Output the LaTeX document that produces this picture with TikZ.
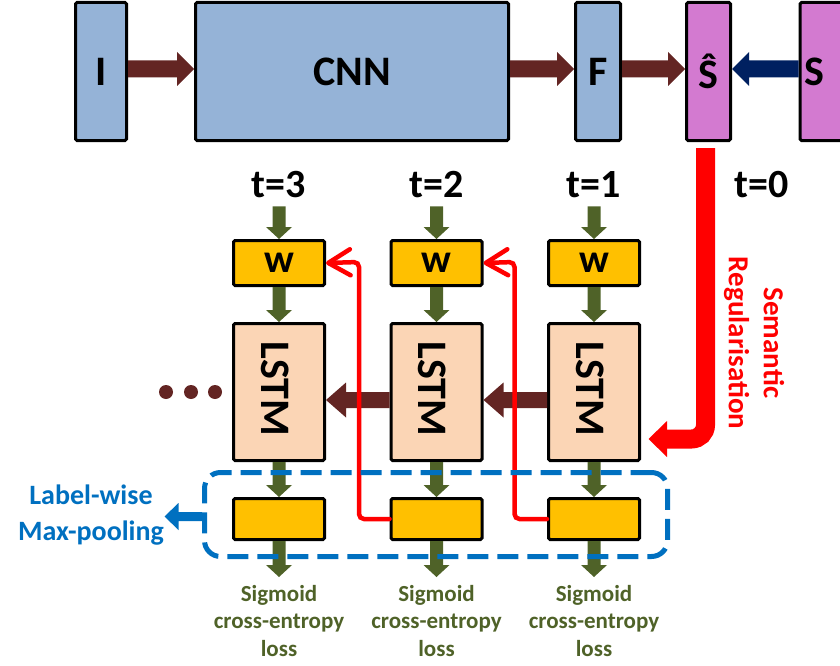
\documentclass[tikz,border=0pt]{standalone}
\usepackage{fontspec}
\setmainfont{Carlito}
\usepackage{graphicx}
\usetikzlibrary{calc,arrows.meta}
\definecolor{boxblue}{HTML}{95B3D7}
\definecolor{pinkc}{HTML}{D37AD0}
\definecolor{orangec}{HTML}{FFC000}
\definecolor{peachc}{HTML}{FBD5B5}
\definecolor{maroonc}{HTML}{632523}
\definecolor{navyc}{HTML}{002060}
\definecolor{greenc}{HTML}{4F6228}
\definecolor{bluec}{HTML}{0070C0}
\definecolor{redc}{HTML}{FF0000}
% block arrow: start, tip, half shaft, half head, head length, colour
\newcommand{\blockarrow}[6]{%
  \coordinate (bahead) at ($(#2)!#5!(#1)$);
  \fill[#6] ($(#1)!#3!90:(#2)$) -- ($(bahead)!#3!90:(#2)$) -- ($(bahead)!#4!90:(#2)$) -- (#2)
    -- ($(bahead)!#4!-90:(#2)$) -- ($(bahead)!#3!-90:(#2)$) -- ($(#1)!#3!-90:(#2)$) -- cycle;}
\begin{document}
\begin{tikzpicture}[x=1pt,y=-1pt,
  box/.style={draw=black, line width=3pt, rounded corners=1.5pt, inner sep=0pt, align=center},
  bigtxt/.style={font=\bfseries\fontsize{42}{50}\selectfont},
  ttxt/.style={font=\bfseries\fontsize{40}{48}\selectfont, inner sep=0pt},
  sigtxt/.style={font=\bfseries\fontsize{23}{27.5}\selectfont, text=greenc, align=center, inner sep=0pt},
  thinred/.style={draw=redc, line width=4.5pt, rounded corners=5pt, line cap=round,
    -{Straight Barb[length=22pt,width=26pt,round]}},
  dot/.style={circle, fill=maroonc, minimum size=14pt, inner sep=0pt}
]
\useasboundingbox (0,0) rectangle (840,666);
\clip (0,0) rectangle (840,666);

% ---- top row ----
\node[box, bigtxt, fill=boxblue, minimum width=51, minimum height=138] (I) at (101,71.5) {I};
\node[box, bigtxt, fill=boxblue, minimum width=313, minimum height=138] (CNN) at (352,71.5) {CNN};
\node[box, bigtxt, fill=boxblue, minimum width=45, minimum height=138] (F) at (598,71.5) {F};
\node[box, bigtxt, fill=pinkc, minimum width=44, minimum height=138] (Shat) at (708.5,71.5) {Ŝ};
\node[box, fill=pinkc, minimum width=73, minimum height=138, anchor=west] (Sbox) at (798.5,71.5) {};
\node[bigtxt, inner sep=0pt] (S) at (814,71.5) {S};

\coordinate (ay) at (0,69);
\coordinate (a1s) at (I.east |- ay);   \coordinate (a1t) at (CNN.west |- ay);
\coordinate (a2s) at (CNN.east |- ay); \coordinate (a2t) at (F.west |- ay);
\coordinate (a3s) at (F.east |- ay);   \coordinate (a3t) at (Shat.west |- ay);
\coordinate (a4s) at (Sbox.west |- ay); \coordinate (a4t) at (Shat.east |- ay);
\blockarrow{a1s}{a1t}{8.5pt}{17pt}{17pt}{maroonc}
\blockarrow{a2s}{a2t}{8.5pt}{17pt}{17pt}{maroonc}
\blockarrow{a3s}{a3t}{8.5pt}{17pt}{17pt}{maroonc}
\blockarrow{a4s}{a4t}{8.5pt}{17pt}{17pt}{navyc}

% ---- time labels ----
\node[ttxt] (t3) at (279,185) {t=3};
\node[ttxt] (t2) at (436.5,185) {t=2};
\node[ttxt] (t1) at (594,185) {t=1};
\node[ttxt] (t0) at (762,185) {t=0};

% ---- columns ----
\foreach \c/\x in {3/279,2/436.5,1/594}{
  \node[box, ttxt, fill=orangec, minimum width=91, minimum height=45] (W\c) at (\x,263) {w};
  \node[box, fill=peachc, minimum width=91, minimum height=137] (L\c) at (\x,392) {};
  \node[bigtxt, inner sep=0pt] (LT\c) at (\x-4,389) {\rotatebox{-90}{LSTM}};
  \node[box, fill=orangec, minimum width=91, minimum height=41] (B\c) at (\x,519) {};
  \coordinate (ts\c) at ($(t\c.south)+(0,8)$);
  \coordinate (out\c) at ($(B\c.south)+(0,36)$);
}
\foreach \c in {1,2,3}{
  \blockarrow{ts\c}{W\c.north}{6.5pt}{13pt}{12pt}{greenc}
  \blockarrow{W\c.south}{L\c.north}{6.5pt}{13pt}{12pt}{greenc}
  \blockarrow{L\c.south}{B\c.north}{6.5pt}{13pt}{12pt}{greenc}
  \blockarrow{B\c.south}{out\c}{6.5pt}{13pt}{12pt}{greenc}
}

% ---- recurrent arrows ----
\coordinate (ly) at (0,400);
\coordinate (m1s) at (L1.west |- ly); \coordinate (m1t) at (L2.east |- ly);
\coordinate (m2s) at (L2.west |- ly); \coordinate (m2t) at (L3.east |- ly);
\blockarrow{m1s}{m1t}{8pt}{17.5pt}{20pt}{maroonc}
\blockarrow{m2s}{m2t}{8pt}{17.5pt}{20pt}{maroonc}
\node[dot] (d1) at (166,392) {};
\node[dot] (d2) at (191,392) {};
\node[dot] (d3) at (215,392) {};

% ---- thin red feedback lines ----
\coordinate (k3) at ($(W3.east)+(33,-1)$);
\coordinate (k2) at ($(W2.east)+(31,-1)$);
\draw[thinred] (B2.west) -| (k3) -- (W3.east);
\draw[thinred] (B1.west) -| (k2) -- (W2.east);

% ---- label-wise max pooling ----
\node[draw=bluec, line width=5pt, dash pattern=on 21pt off 9pt, rounded corners=16pt,
      minimum width=463, minimum height=84, inner sep=0pt] (pool) at (436,514.5) {};
\coordinate (bt) at ($(pool.west)+(-37.5,2)$);
\coordinate (bs) at ($(pool.west)+(0,2)$);
\blockarrow{bs}{bt}{4.5pt}{13.5pt}{14pt}{bluec}
\node[font=\bfseries\fontsize{28}{36}\selectfont, text=bluec, align=center, inner sep=0pt] (mp) at (91,515)
  {Label-wise\\Max-pooling};

% ---- semantic regularisation ----
\coordinate (rs) at ($(Shat.south)+(-3,6)$);
\coordinate (rh) at ($(L1.east)+(26,47)$);
\coordinate (rt) at ($(L1.east)+(7.5,47)$);
\draw[redc, line width=19pt, rounded corners=14pt] (rs) |- (rh);
\fill[redc] ($(rh)+(0,-18)$) -- (rt) -- ($(rh)+(0,18)$) -- cycle;
\node[font=\bfseries\fontsize{29}{35}\selectfont, text=redc, align=center, rotate=-90, inner sep=0pt] (sr) at (754,343)
  {Semantic\\Regularisation};

% ---- losses ----
\node[sigtxt] (s3) at (279,621) {Sigmoid\\cross-entropy\\loss};
\node[sigtxt] (s2) at (436.5,621) {Sigmoid\\cross-entropy\\loss};
\node[sigtxt] (s1) at (594,621) {Sigmoid\\cross-entropy\\loss};
\end{tikzpicture}
\end{document}
